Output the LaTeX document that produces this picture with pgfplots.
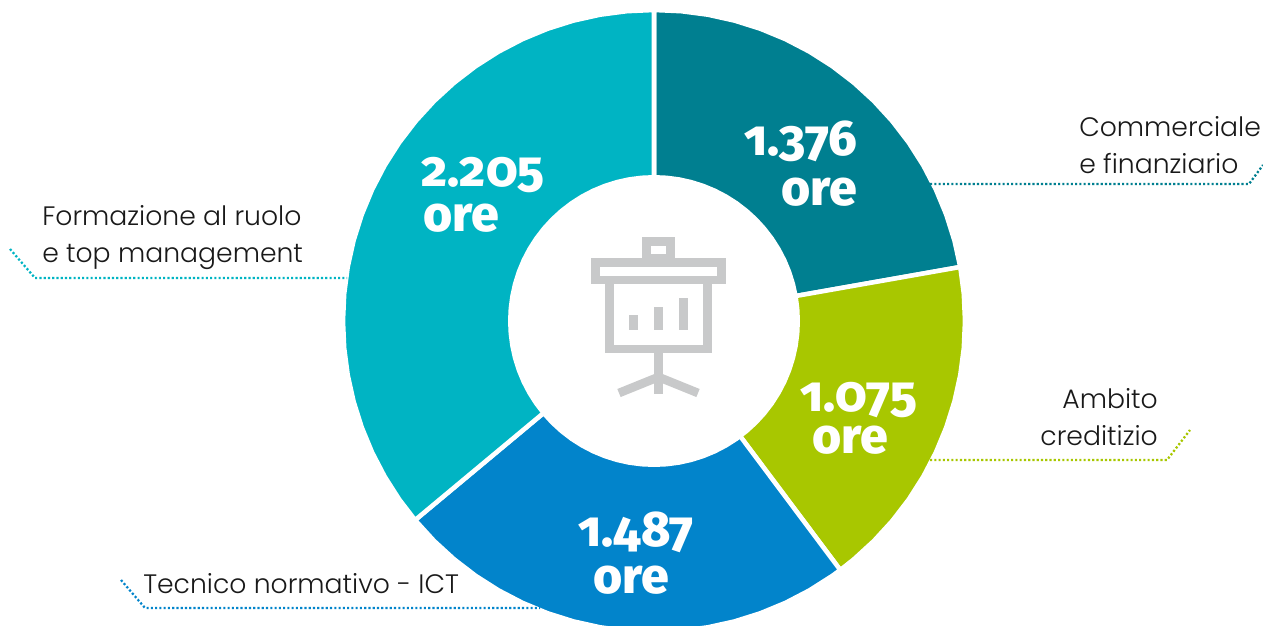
\documentclass[border=0pt]{standalone}
\usepackage{fontspec}
\usepackage{pgfplots}
\pgfplotsset{compat=1.18}
\usepgfplotslibrary{polar}
\setmainfont{Poppins Light}
\newfontfamily\numf[Numbers=OldStyle]{Fira Sans ExtraBold}
\definecolor{cteal}{HTML}{007F90}
\definecolor{cgreen}{HTML}{A8C700}
\definecolor{cblue}{HTML}{0284CB}
\definecolor{ccyan}{HTML}{00B4C3}
\definecolor{cicon}{HTML}{C8C9CA}
\tikzset{
  lead/.style={line width=1.7pt,dash pattern=on 1.6pt off 1.6pt},
  big/.style={text=white,font=\numf\fontsize{37.5}{37.5}\selectfont,anchor=center,inner sep=0pt},
  lab/.style={text=black!90,font=\fontsize{20}{24}\selectfont,inner sep=0pt}}
\begin{document}
\begin{tikzpicture}[x=0.75pt,y=0.75pt]
\useasboundingbox (0,0) rectangle (1263,625);
\clip (0,0) rectangle (1263,625);
% Values: 1376, 1075, 1487, 2205 hours; wedge angles follow from their shares
\begin{polaraxis}[at={(654,304)},anchor=center,scale only axis,width=463.5pt,height=463.5pt,
  xmin=0,xmax=360,ymin=0,ymax=309,hide axis,clip=false]
\addplot[fill=cteal,draw=white,line width=3.4pt,line join=miter] coordinates {(90,0)(90,311)(85,311)(80,311)(75,311)(70,311)(65,311)(60,311)(55,311)(50,311)(45,311)(40,311)(35,311)(30,311)(25,311)(20,311)(15,311)(10,311)(10,0)} -- cycle;
\addplot[fill=cgreen,draw=white,line width=3.4pt] coordinates {(10,0)(10,311)(5,311)(0,311)(-5,311)(-10,311)(-15,311)(-20,311)(-25,311)(-30,311)(-35,311)(-40,311)(-45,311)(-50,311)(-53.2,311)(-53.2,0)} -- cycle;
\addplot[fill=cblue,draw=white,line width=3.4pt] coordinates {(-53.2,0)(-53.2,311)(-55,311)(-60,311)(-65,311)(-70,311)(-75,311)(-80,311)(-85,311)(-90,311)(-95,311)(-100,311)(-105,311)(-110,311)(-115,311)(-120,311)(-125,311)(-130,311)(-135,311)(-140.2,311)(-140.2,0)} -- cycle;
\addplot[fill=ccyan,draw=white,line width=3.4pt] coordinates {(-140.2,0)(-140.2,311)(-145,311)(-150,311)(-155,311)(-160,311)(-165,311)(-170,311)(-175,311)(-180,311)(-185,311)(-190,311)(-195,311)(-200,311)(-205,311)(-210,311)(-215,311)(-220,311)(-225,311)(-230,311)(-235,311)(-240,311)(-245,311)(-250,311)(-255,311)(-260,311)(-265,311)(-270,311)(-270,0)} -- cycle;
\addplot[fill=white,draw=none] coordinates {(0,146)(5,146)(10,146)(15,146)(20,146)(25,146)(30,146)(35,146)(40,146)(45,146)(50,146)(55,146)(60,146)(65,146)(70,146)(75,146)(80,146)(85,146)(90,146)(95,146)(100,146)(105,146)(110,146)(115,146)(120,146)(125,146)(130,146)(135,146)(140,146)(145,146)(150,146)(155,146)(160,146)(165,146)(170,146)(175,146)(180,146)(185,146)(190,146)(195,146)(200,146)(205,146)(210,146)(215,146)(220,146)(225,146)(230,146)(235,146)(240,146)(245,146)(250,146)(255,146)(260,146)(265,146)(270,146)(275,146)(280,146)(285,146)(290,146)(295,146)(300,146)(305,146)(310,146)(315,146)(320,146)(325,146)(330,146)(335,146)(340,146)(345,146)(350,146)(355,146)} -- cycle;
\end{polaraxis}
\begin{axis}[at={(0,0)},anchor=south west,scale only axis,width=947.25pt,height=468.75pt,
  xmin=0,xmax=1263,ymin=0,ymax=625,y dir=reverse,hide axis,clip=false]
\addplot[lead,cteal] coordinates {(930,184)(1249,184)(1263,165)};
\addplot[lead,cgreen] coordinates {(930,460)(1167,460)(1190,430)};
\addplot[lead,cblue] coordinates {(121,580)(145,608)(540,608)};
\addplot[lead,ccyan] coordinates {(10,249)(35,278)(347,278)};
% icon
\draw[cicon,line width=6.5pt] (axis cs:595.3,262.4) rectangle (axis cs:721.7,280);
\draw[cicon,line width=6.5pt] (axis cs:646.3,241.3) rectangle (axis cs:670.7,258);
\draw[cicon,line width=6.5pt] (axis cs:609.3,284) -- (axis cs:609.3,349) -- (axis cs:707.7,349) -- (axis cs:707.7,284);
\fill[cicon] (axis cs:629,315) rectangle (axis cs:638,330);
\fill[cicon] (axis cs:654,307) rectangle (axis cs:663,330);
\fill[cicon] (axis cs:679,298) rectangle (axis cs:688,330);
\draw[cicon,line width=6.5pt] (axis cs:658.5,353) -- (axis cs:658.5,394);
\draw[cicon,line width=6.5pt,line join=bevel] (axis cs:619,393) -- (axis cs:658.5,377) -- (axis cs:698,393);
% values
\node[big] at (axis cs:801,141) {1.376};
\node[big] at (axis cs:819,192) {ore};
\node[big] at (axis cs:859,400) {1.075};
\node[big] at (axis cs:850,440) {ore};
\node[big] at (axis cs:636,532) {1.487};
\node[big] at (axis cs:631,580) {ore};
\node[big] at (axis cs:483,175) {2.205};
\node[big] at (axis cs:461,218) {ore};
% labels
\node[lab,anchor=base west] at (axis cs:1079,136) {Commerciale};
\node[lab,anchor=base west] at (axis cs:1079,173) {e finanziario};
\node[lab,anchor=base east] at (axis cs:1158,408) {Ambito};
\node[lab,anchor=base east] at (axis cs:1158,445) {creditizio};
\node[lab,anchor=base west] at (axis cs:143,593) {Tecnico normativo - ICT};
\node[lab,anchor=base west] at (axis cs:42,225) {Formazione al ruolo};
\node[lab,anchor=base west] at (axis cs:42,262) {e top management};
\end{axis}
\end{tikzpicture}
\end{document}
